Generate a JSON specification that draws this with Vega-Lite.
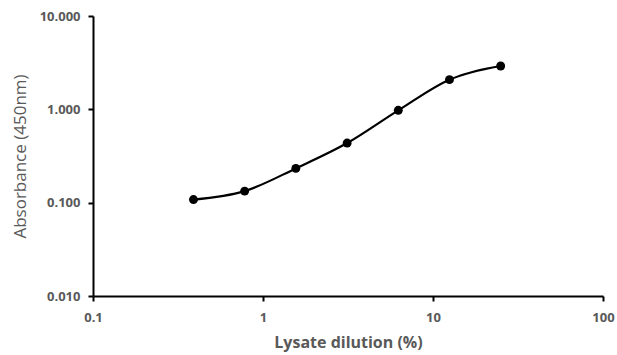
{
  "$schema": "https://vega.github.io/schema/vega-lite/v6.json",
  "autosize": "none",
  "padding": {"left": 93, "top": 16, "right": 14, "bottom": 59},
  "width": 510,
  "height": 280,
  "background": "white",
  "config": {
    "view": {"stroke": null},
    "axis": {
      "grid": false,
      "domainColor": "black",
      "domainWidth": 2,
      "tickColor": "black",
      "tickWidth": 2,
      "tickSize": 5,
      "labelFlush": false,
      "labelFont": "Open Sans",
      "labelFontSize": 13,
      "labelFontWeight": "bold",
      "labelColor": "#595959",
      "titleFont": "Open Sans",
      "titleColor": "#595959"
    }
  },
  "data": {
    "values": [
      {"dilution": 0.39, "absorbance": 0.108},
      {"dilution": 0.78, "absorbance": 0.133},
      {"dilution": 1.56, "absorbance": 0.233},
      {"dilution": 3.125, "absorbance": 0.435},
      {"dilution": 6.25, "absorbance": 0.976},
      {"dilution": 12.5, "absorbance": 2.08},
      {"dilution": 25, "absorbance": 2.91}
    ]
  },
  "encoding": {
    "x": {
      "field": "dilution",
      "type": "quantitative",
      "scale": {"type": "log", "domain": [0.1, 100], "nice": false},
      "axis": {
        "values": [0.1, 1, 10, 100],
        "format": "~g",
        "title": "Lysate dilution (%)",
        "titleFontSize": 16,
        "titleFontWeight": "bold",
        "labelPadding": 10,
        "titlePadding": 10
      }
    },
    "y": {
      "field": "absorbance",
      "type": "quantitative",
      "scale": {"type": "log", "domain": [0.01, 10], "nice": false},
      "axis": {
        "values": [0.01, 0.1, 1, 10],
        "format": ".3f",
        "title": "Absorbance (450nm)",
        "titleFontSize": 17,
        "titleFontWeight": "normal",
        "labelPadding": 8,
        "titlePadding": 10
      }
    }
  },
  "layer": [
    {
      "mark": {"type": "line", "interpolate": "monotone", "color": "black", "strokeWidth": 2.2}
    },
    {
      "mark": {"type": "point", "filled": true, "color": "black", "opacity": 1, "size": 80}
    }
  ]
}
